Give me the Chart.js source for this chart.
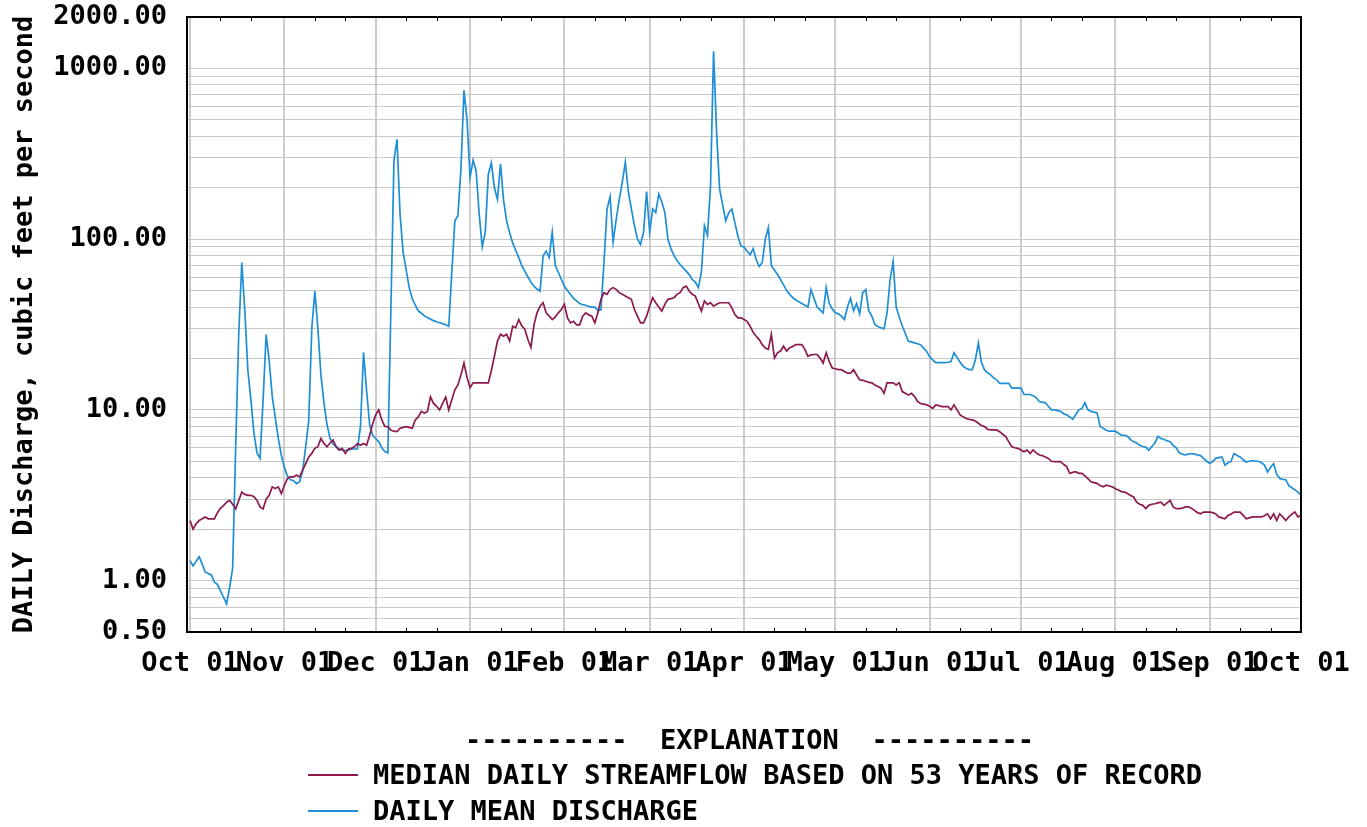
<!DOCTYPE html>
<html>
<head>
<meta charset="utf-8">
<title>Daily discharge</title>
<script src="https://cdn.jsdelivr.net/npm/chart.js@4.4.1/dist/chart.umd.min.js"></script>
<style>
  body { margin: 0; background: #fff; }
  #wrap { position: relative; width: 1367px; height: 827px; }
  #legend { position: absolute; left: 0; top: 0; width: 1367px; height: 827px; pointer-events: none;
    font-family: 'DejaVu Sans Mono', monospace; font-weight: bold; font-size: 27px; color: #000; }
  #legend div { position: absolute; white-space: pre; line-height: 30px; }
  .swatch { height: 2px; width: 50px; }
</style>
</head>
<body>
<div id="wrap">
  <canvas id="flowChart" width="1367" height="700"></canvas>
  <div id="legend"></div>
</div>
<script>
// month starts (days since Oct 01) and their labels
const monthDays = [0, 31, 61, 92, 123, 151, 182, 212, 243, 273, 304, 335, 365];
const monthLabels = ['Oct 01', 'Nov 01', 'Dec 01', 'Jan 01', 'Feb 01', 'Mar 01', 'Apr 01',
  'May 01', 'Jun 01', 'Jul 01', 'Aug 01', 'Sep 01', 'Oct 01'];

// y axis grid values and the ones that get a label
const yGridValues = [0.5, 0.6, 0.7, 0.8, 0.9, 1, 2, 3, 4, 5, 6, 7, 8, 9, 10, 20, 30, 40, 50, 60, 70, 80, 90,
  100, 200, 300, 400, 500, 600, 700, 800, 900, 1000, 2000];
const yLabelValues = [0.5, 1, 10, 100, 1000, 2000];

const medianLabel = 'MEDIAN DAILY STREAMFLOW BASED ON 53 YEARS OF RECORD';
const meanLabel = 'DAILY MEAN DISCHARGE';

// daily mean discharge, cfs, one value per day from Oct 01
const dailyMean = [
  1.31, 1.22, 1.30, 1.38, 1.25, 1.12, 1.10, 1.08, 0.98, 0.95,
  0.87, 0.80, 0.73, 0.91, 1.18, 6.1, 28, 73, 38, 17,
  11.4, 7.3, 5.6, 5.2, 11.4, 27.6, 19.5, 12, 9, 6.8,
  5.4, 4.6, 4.1, 3.9, 3.85, 3.7, 3.8, 4.4, 6.1, 8.7,
  30, 49.6, 30, 16, 11, 8.2, 6.8, 6.3, 6.1, 5.9,
  5.8, 5.8, 5.8, 5.9, 5.9, 5.9, 8, 21.7, 13, 8.2,
  7.1, 6.8, 6.5, 6.0, 5.7, 5.6, 40, 290, 384, 140,
  84, 66, 52, 45, 41, 38, 36.8, 35.5, 34.7, 34,
  33.3, 32.8, 32.4, 32, 31.5, 30.8, 64, 128, 137, 258,
  745, 500, 230, 290, 250, 140, 90, 110, 240, 280,
  200, 171, 275, 170, 128, 109, 95, 86, 78, 70,
  65, 60, 56, 53, 51, 49.6, 80, 85, 78, 110,
  70, 64, 58, 53, 50, 47.4, 45, 43.5, 42, 41.3,
  41, 40.3, 40, 40, 38, 38.5, 73, 150, 177, 96,
  130, 170, 215, 282, 190, 150, 120, 100, 93, 110,
  190, 110, 150, 143, 184, 165, 143, 100, 88, 80,
  75, 71, 68, 65, 62, 58, 56, 52, 64, 120,
  105, 205, 1260, 420, 196, 158, 128, 143, 150, 125,
  104, 91, 90, 85, 81, 88, 76, 69, 73, 100,
  117, 70, 66, 62, 58, 54, 50, 47.5, 45.5, 44,
  43, 42, 41, 40, 50.6, 45, 40, 38.5, 37, 52,
  42, 39, 37, 36.5, 35.4, 33.8, 40, 45, 38, 42,
  36.5, 48.6, 50.6, 38, 35.4, 31.6, 30.8, 30.3, 29.8, 37,
  58, 74, 40, 35, 31, 28, 25.2, 25, 24.7, 24.4,
  24.1, 23, 22, 20.5, 19.6, 18.9, 18.9, 18.9, 18.9, 19,
  19.2, 21.6, 20.3, 19, 18, 17.5, 17.2, 17.2, 19.6, 24.7,
  19, 17.2, 16.5, 16.1, 15.4, 15, 14.3, 14.3, 14.3, 14.3,
  13.4, 13.4, 13.4, 13.4, 12.3, 12.3, 12.3, 12.1, 11.8, 11.2,
  11.1, 11, 10.5, 10, 10, 9.9, 9.8, 9.5, 9.35, 9.1,
  8.8, 9.4, 10, 10.2, 11, 10, 9.8, 9.7, 9.6, 8,
  7.8, 7.6, 7.5, 7.5, 7.5, 7.3, 7.1, 7.1, 7, 6.7,
  6.5, 6.4, 6.2, 6.1, 6.05, 5.8, 6.1, 6.4, 7, 6.8,
  6.7, 6.6, 6.5, 6.2, 6, 5.6, 5.5, 5.45, 5.5, 5.55,
  5.5, 5.45, 5.4, 5.2, 5.0, 4.85, 5.0, 5.2, 5.25, 5.3,
  4.75, 4.9, 5.0, 5.55, 5.4, 5.3, 5.1, 4.95, 5.0, 5.05,
  5.0, 5.0, 4.9, 4.75, 4.33, 4.6, 4.85, 4.2, 3.96, 3.92,
  3.9, 3.6, 3.5, 3.4, 3.3, 3.16
];

// median daily streamflow, cfs, one value per day from Oct 01
const dailyMedian = [
  2.25, 2.0, 2.15, 2.25, 2.3, 2.36, 2.3, 2.3, 2.3, 2.5,
  2.65, 2.75, 2.88, 2.95, 2.8, 2.63, 2.95, 3.3, 3.2, 3.16,
  3.16, 3.1, 2.95, 2.7, 2.63, 3.0, 3.16, 3.54, 3.46, 3.54,
  3.24, 3.62, 3.96, 4.05, 4.05, 4.15, 4.05, 4.44, 4.85, 5.3,
  5.56, 5.95, 6.08, 6.8, 6.35, 6.08, 6.4, 6.66, 6.08, 5.8,
  5.95, 5.56, 5.9, 5.95, 6.08, 6.35, 6.2, 6.35, 6.2, 7.1,
  8.3, 9.35, 10, 8.73, 8.0, 7.98, 7.6, 7.5, 7.45, 7.8,
  7.9, 7.98, 7.9, 7.8, 8.73, 9.1, 9.8, 9.56, 9.8, 11.9,
  10.9, 10.5, 10, 10.9, 11.9, 10, 11.45, 13.1, 14, 16,
  18.8, 15.5, 13.5, 14.4, 14.4, 14.4, 14.4, 14.4, 14.4, 17,
  20.6, 25.3, 27.7, 27, 27.7, 25.3, 30.9, 30.3, 33.8, 31,
  29.7, 25.8, 23.2, 31.5, 37, 40.5, 42.4, 37, 35.4, 33.8,
  35, 37, 38.7, 41.5, 34.6, 32.3, 33, 31.5, 31.5, 35.4,
  37, 36, 35.4, 32.3, 37, 44.4, 48.6, 47.5, 50.8, 52,
  50.8, 48.6, 47.5, 46.5, 45.4, 44.4, 38.7, 35.4, 32.3, 32.3,
  35.4, 40.5, 45.4, 42.4, 40, 37.9, 41.5, 44.4, 44.8, 45.4,
  47.5, 48.6, 52, 53.1, 49.7, 47.5, 46.4, 42, 37.9, 43.4,
  41.5, 42.4, 40.5, 41.5, 42.4, 42.4, 42.4, 42.4, 39.6, 36.2,
  34.6, 34.6, 33.8, 33, 30.9, 28.5, 27, 25.8, 24.1, 23,
  22.6, 27.7, 20.1, 21.6, 22.1, 23.6, 22.1, 23.1, 23.5, 24.1,
  24.1, 24.1, 22.6, 20.6, 21, 21.1, 21.1, 20.1, 18.8, 21.6,
  19.2, 17.6, 17.4, 17.2, 17.2, 16.8, 16.4, 16.4, 17.2, 16,
  15, 14.9, 14.7, 14.5, 14.4, 14, 13.7, 13.4, 12.5, 14.4,
  14.4, 14.4, 14, 14.4, 12.8, 12.5, 12.2, 12.5, 12, 11.2,
  10.9, 10.8, 10.7, 10.5, 10.2, 10.7, 10.6, 10.46, 10.46, 10.46,
  10, 10.7, 10, 9.35, 9.1, 8.9, 8.8, 8.73, 8.6, 8.35,
  8.1, 7.98, 7.7, 7.63, 7.63, 7.63, 7.45, 7.2, 6.97, 6.5,
  6.08, 6.0, 5.95, 5.82, 5.68, 5.82, 5.56, 5.82, 5.6, 5.44,
  5.4, 5.3, 5.2, 5.0, 4.97, 4.97, 4.97, 4.8, 4.65, 4.25,
  4.3, 4.34, 4.25, 4.25, 4.1, 3.96, 3.79, 3.75, 3.71, 3.6,
  3.54, 3.62, 3.58, 3.54, 3.45, 3.39, 3.32, 3.3, 3.24, 3.15,
  3.09, 2.88, 2.8, 2.76, 2.64, 2.76, 2.8, 2.82, 2.85, 2.88,
  2.76, 2.85, 2.95, 2.7, 2.64, 2.64, 2.66, 2.7, 2.7, 2.65,
  2.58, 2.5, 2.46, 2.52, 2.52, 2.52, 2.5, 2.46, 2.36, 2.33,
  2.3, 2.41, 2.45, 2.52, 2.52, 2.52, 2.41, 2.3, 2.33, 2.36,
  2.36, 2.36, 2.36, 2.4, 2.46, 2.3, 2.46, 2.25, 2.46, 2.36,
  2.25, 2.36, 2.45, 2.52, 2.36, 2.41
];

const medianColor = '#8c1a4c';
const meanColor = '#1e8fd6';
const fontFamily = "'DejaVu Sans Mono', monospace";

// small ticks on the 11th and 21st of each month
const minorTickDays = [];
monthDays.slice(0, -1).forEach(d => { minorTickDays.push(d + 10, d + 20); });

// black box round the plot plus the small ticks
const framePlugin = {
  id: 'frame',
  afterDatasetsDraw(chart) {
    const { ctx, chartArea: a, scales } = chart;
    ctx.save();
    ctx.strokeStyle = '#000';
    ctx.lineWidth = 2;
    ctx.strokeRect(a.left, a.top, a.right - a.left, a.bottom - a.top);
    ctx.lineWidth = 1;
    ctx.beginPath();
    minorTickDays.forEach(d => {
      const x = Math.round(scales.x.getPixelForValue(d)) + 0.5;
      ctx.moveTo(x, a.bottom); ctx.lineTo(x, a.bottom - 4);
      ctx.moveTo(x, a.top); ctx.lineTo(x, a.top + 4);
    });
    ctx.stroke();
    ctx.restore();
  }
};

const ctx = document.getElementById('flowChart').getContext('2d');
const flowChart = new Chart(ctx, {
  type: 'line',
  data: {
    datasets: [
      {
        label: medianLabel,
        data: dailyMedian.map((v, i) => ({ x: i, y: v })),
        borderColor: medianColor,
        borderWidth: 1.7,
        pointRadius: 0,
        tension: 0,
        fill: false
      },
      {
        label: meanLabel,
        data: dailyMean.map((v, i) => ({ x: i, y: v })),
        borderColor: meanColor,
        borderWidth: 1.7,
        pointRadius: 0,
        tension: 0,
        fill: false
      }
    ]
  },
  options: {
    responsive: false,
    animation: false,
    events: [],
    layout: { padding: { left: 0, right: 66, top: 17, bottom: 0 } },
    plugins: {
      legend: { display: false },
      tooltip: { enabled: false }
    },
    scales: {
      x: {
        type: 'linear',
        min: -1,
        max: 365,
        afterBuildTicks: scale => { scale.ticks = monthDays.map(v => ({ value: v })); },
        afterFit: scale => { scale.height = 68; },
        ticks: {
          autoSkip: false,
          maxRotation: 0,
          minRotation: 0,
          padding: 16,
          color: '#000',
          font: { family: fontFamily, size: 27, weight: 'bold' },
          callback: (value, index) => monthLabels[index]
        },
        grid: { color: '#cccccc', lineWidth: 2, drawTicks: false },
        border: { display: false }
      },
      y: {
        type: 'logarithmic',
        min: 0.5,
        max: 2000,
        afterBuildTicks: scale => { scale.ticks = yGridValues.map(v => ({ value: v })); },
        afterFit: scale => {
          scale.width = 187;
          scale.paddingTop = 0;
          scale.paddingBottom = 0;
        },
        ticks: {
          autoSkip: false,
          padding: 20,
          color: '#000',
          font: { family: fontFamily, size: 27, weight: 'bold' },
          callback: value => yLabelValues.includes(value) ? value.toFixed(2) : ''
        },
        grid: { color: '#c8c8c8', lineWidth: 1, drawTicks: false },
        border: { display: false },
        title: {
          display: true,
          text: 'DAILY Discharge, cubic feet per second',
          color: '#000',
          font: { family: fontFamily, size: 27, weight: 'bold' },
          padding: { top: 9, bottom: 0 }
        }
      }
    }
  },
  plugins: [framePlugin]
});

// explanation block under the chart
const legend = document.getElementById('legend');
legend.innerHTML =
  '<div style="left:465px;top:725px">----------  EXPLANATION  ----------</div>' +
  '<div class="swatch" style="left:308px;top:774px;background:' + medianColor + '"></div>' +
  '<div style="left:373px;top:760px">' + medianLabel + '</div>' +
  '<div class="swatch" style="left:308px;top:810px;background:' + meanColor + '"></div>' +
  '<div style="left:373px;top:796px">' + meanLabel + '</div>';
</script>
</body>
</html>
